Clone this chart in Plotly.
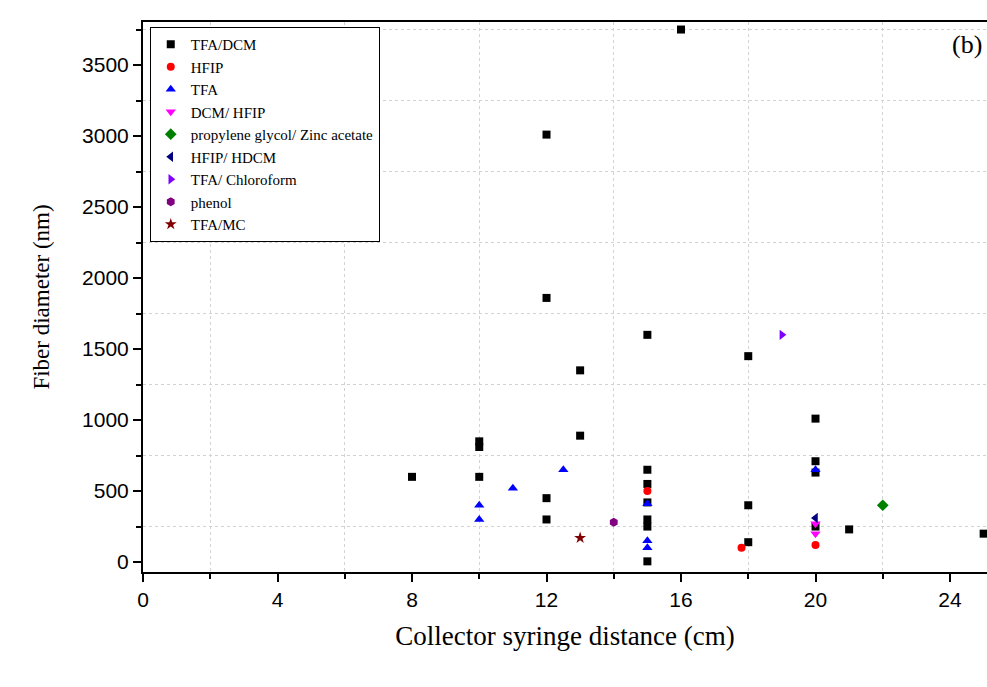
import plotly.graph_objects as go

# ---- data (x = collector-syringe distance cm, y = fiber diameter nm) ----
tfa_dcm_x = [8, 10, 10, 10, 12, 12, 12, 12, 13, 13, 15, 15, 15, 15, 15, 15, 15, 16, 18, 18, 18, 20, 20, 20, 20, 21, 25]
tfa_dcm_y = [600, 600, 810, 850, 3010, 1860, 450, 300, 1350, 890, 1600, 650, 550, 420, 300, 250, 5, 3750, 1450, 400, 140, 1010, 710, 630, 250, 230, 200]
hfip_x = [15, 17.8, 20]
hfip_y = [500, 100, 120]
tfa_x = [10, 10, 11, 12.5, 15, 15, 15, 20]
tfa_y = [400, 300, 520, 650, 410, 150, 100, 650]
dcm_hfip_x = [20, 20]
dcm_hfip_y = [270, 200]
pg_zn_x = [22]
pg_zn_y = [400]
hfip_hdcm_x = [20]
hfip_hdcm_y = [310]
tfa_chl_x = [19]
tfa_chl_y = [1600]
phenol_x = [14]
phenol_y = [280]
tfa_mc_x = [13]
tfa_mc_y = [170]

series = [
    ("TFA/DCM", tfa_dcm_x, tfa_dcm_y, "square", "#000000", 8),
    ("HFIP", hfip_x, hfip_y, "circle", "#ff0000", 8),
    ("TFA", tfa_x, tfa_y, "triangle-up", "#0000ff", 9),
    ("DCM/ HFIP", dcm_hfip_x, dcm_hfip_y, "triangle-down", "#ff00ff", 9),
    ("propylene glycol/ Zinc acetate", pg_zn_x, pg_zn_y, "diamond", "#008000", 9),
    ("HFIP/ HDCM", hfip_hdcm_x, hfip_hdcm_y, "triangle-left", "#000080", 9),
    ("TFA/ Chloroform", tfa_chl_x, tfa_chl_y, "triangle-right", "#8000ff", 9),
    ("phenol", phenol_x, phenol_y, "hexagon", "#800080", 9),
    ("TFA/MC", tfa_mc_x, tfa_mc_y, "star", "#800000", 9),
]

fig = go.Figure()
for name, xs, ys, sym, col, sz in series:
    fig.add_trace(go.Scatter(x=xs, y=ys, mode="markers", name=name,
                             marker=dict(symbol=sym, color=col, size=sz, line=dict(width=0))))

serif = "Liberation Serif, Times New Roman, serif"
sans = "Liberation Sans, Arial, sans-serif"
grid = dict(showgrid=True, gridcolor="#d2d2d2", griddash="3px,3px", gridwidth=1)

fig.update_layout(
    width=987, height=687,
    margin=dict(l=143, r=0, t=22, b=115),
    paper_bgcolor="white", plot_bgcolor="white",
    showlegend=True,
    legend=dict(x=0.008, y=0.991, xanchor="left", yanchor="top",
                bordercolor="black", borderwidth=1, bgcolor="white",
                font=dict(family=serif, size=15, color="black"),
                tracegroupgap=0, itemwidth=30),
    xaxis=dict(range=[0, 25.1], tickmode="array", tickvals=[0, 4, 8, 12, 16, 20, 24],
               ticks="outside", ticklen=8, tickwidth=2, tickcolor="black",
               showline=True, linecolor="black", linewidth=2, mirror=True,
               showgrid=False, zeroline=False,
               tickfont=dict(family=sans, size=21, color="black"),
               title=dict(text="Collector syringe distance (cm)", font=dict(family=serif, size=27, color="black"), standoff=16),
               minor=dict(tickmode="array", tickvals=[2, 6, 10, 14, 18, 22], ticks="outside", ticklen=5, tickwidth=1.5,
                          tickcolor="black", **grid)),
    yaxis=dict(range=[-70, 3803], tickmode="array", tickvals=[0, 500, 1000, 1500, 2000, 2500, 3000, 3500],
               ticks="outside", ticklen=8, tickwidth=2, tickcolor="black",
               showline=True, linecolor="black", linewidth=2, mirror=False,
               showgrid=False, zeroline=False,
               tickfont=dict(family=sans, size=21, color="black"),
               title=dict(text="Fiber diameter (nm)", font=dict(family=serif, size=23, color="black"), standoff=26),
               minor=dict(tickmode="array", tickvals=[250, 750, 1250, 1750, 2250, 2750, 3250, 3750], ticks="outside", ticklen=5, tickwidth=1.5,
                          tickcolor="black", **grid)),
    annotations=[dict(text="(b)", x=0.997, y=0.99, xref="paper", yref="paper", xanchor="right", yanchor="top",
                      showarrow=False, font=dict(family=serif, size=26, color="black"))],
)

fig.write_html("out.html")
